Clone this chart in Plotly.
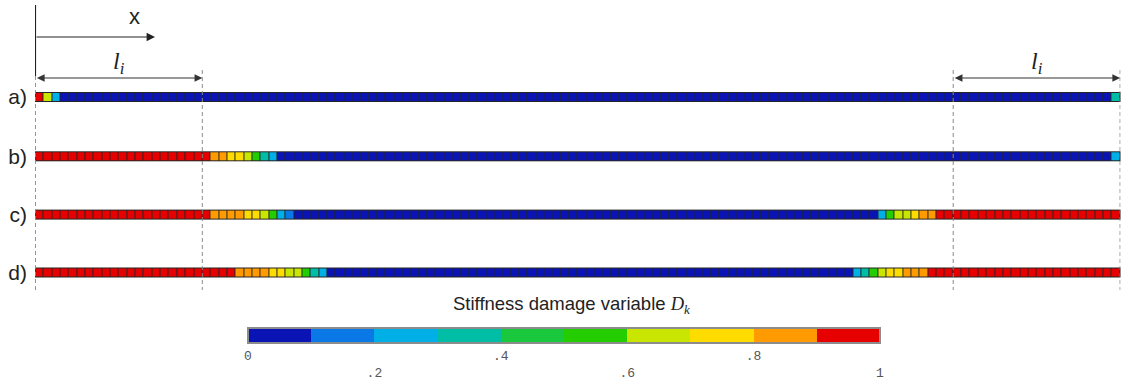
import plotly.graph_objects as go
import numpy as np

# ---------------- data ----------------
row_labels = ["a)", "b)", "c)", "d)"]
n_elements = 130          # elements along the bar
li_elements = 20          # elements inside each l_i zone

# damage value per element, as (value, number of consecutive elements)
runs_a = [(0.95, 1), (0.65, 1), (0.25, 1), (0.05, 126), (0.35, 1)]
runs_b = [(0.95, 21), (0.85, 2), (0.75, 2), (0.65, 1), (0.55, 1), (0.35, 1),
          (0.25, 1), (0.05, 100), (0.25, 1)]
runs_c = [(0.95, 21), (0.85, 4), (0.75, 2), (0.65, 1), (0.55, 1), (0.25, 1),
          (0.15, 1), (0.05, 70), (0.25, 1), (0.55, 1), (0.65, 2), (0.75, 1),
          (0.85, 2), (0.95, 22)]
runs_d = [(0.95, 24), (0.85, 4), (0.75, 2), (0.65, 2), (0.55, 1), (0.35, 1),
          (0.25, 1), (0.05, 63), (0.25, 1), (0.35, 1), (0.55, 1), (0.65, 1),
          (0.75, 2), (0.85, 3), (0.95, 23)]
all_runs = [runs_a, runs_b, runs_c, runs_d]

bin_colors = ["#0a14b4", "#0a78e6", "#00afe6", "#00bea5", "#19c83c",
              "#23cd00", "#c8e600", "#ffdc00", "#ff9b00", "#e60000"]
cbar_tickvals = [0, 0.2, 0.4, 0.6, 0.8, 1.0]
cbar_ticktext = ["0", "<br>.2", ".4", "<br>.6", ".8", "<br>1"]


def expand(runs):
    return [v for v, n in runs for _ in range(n)]


# ---------------- layout helpers ----------------
W, H = 1121, 381


def py(p):
    return 1 - p / H


def px(p):
    return p / W


colorscale = []
nb = len(bin_colors)
for k, c in enumerate(bin_colors):
    colorscale.append([k / nb, c])
    colorscale.append([(k + 1) / nb, c])

row_centers = [97.0, 156.3, 214.6, 272.5]
half_h = 5.0
x_edges = np.arange(n_elements + 1)

fig = go.Figure()
layout = {}
for i, (lab, runs) in enumerate(zip(row_labels, all_runs)):
    sfx = "" if i == 0 else str(i + 1)
    vals = expand(runs)
    fig.add_trace(go.Heatmap(
        z=[vals], x=x_edges, y=[-0.5, 0.5], coloraxis="coloraxis",
        xgap=1, xaxis="x" + sfx, yaxis="y" + sfx, hoverinfo="skip"))
    xa = dict(domain=[px(35), px(1120.5)], range=[-0.05, n_elements + 0.05],
              visible=False, anchor="y" + sfx, fixedrange=True)
    if i > 0:
        xa["matches"] = "x"
    layout["xaxis" + sfx] = xa
    c = row_centers[i]
    layout["yaxis" + sfx] = dict(
        domain=[py(c + half_h), py(c - half_h)], range=[-0.625, 0.625],
        anchor="x" + sfx, tickvals=[0], ticktext=[lab], showgrid=False,
        zeroline=False, showline=False, ticks="", fixedrange=True,
        ticklabelstandoff=7, automargin=False,
        tickfont=dict(family="Liberation Sans", size=21, color="#222"))

fig.update_layout(**layout)

fig.update_layout(
    width=W, height=H,
    margin=dict(l=0, r=0, t=0, b=0, pad=0, autoexpand=False),
    paper_bgcolor="white", plot_bgcolor="#262626", showlegend=False,
    coloraxis=dict(
        cmin=0, cmax=1, colorscale=colorscale,
        colorbar=dict(
            orientation="h", x=px(564), xanchor="center", y=py(328),
            yanchor="top", len=632 / W, lenmode="fraction", thickness=15,
            outlinewidth=2, outlinecolor="#8c8c8c", tickvals=cbar_tickvals,
            ticktext=cbar_ticktext, ticks="", xpad=0, ypad=0,
            tickfont=dict(family="Liberation Mono", size=13, color="#555"))))

shapes = []
# solid vertical origin line
shapes.append(dict(type="line", xref="x", yref="paper", x0=0, x1=0,
                   y0=py(5), y1=py(76), line=dict(color="#222", width=1.3)))
# dashed guide lines at bar ends and l_i limits
for xv, ytop in [(0, 76), (li_elements, 70), (n_elements - li_elements, 70),
                 (n_elements, 70)]:
    shapes.append(dict(type="line", xref="x", yref="paper", x0=xv, x1=xv,
                       y0=py(ytop), y1=py(290),
                       line=dict(color="#8a8a8a", width=1, dash="4px,3px")))
fig.update_layout(shapes=shapes)

annotations = []
# x axis arrow
annotations.append(dict(x=px(155), y=py(37), xref="paper", yref="paper",
                        ax=-120, ay=0, axref="pixel", ayref="pixel", text="",
                        showarrow=True, arrowhead=2, arrowsize=1.4,
                        arrowwidth=1.2, arrowcolor="#222"))
annotations.append(dict(x=px(134), y=py(16), xref="paper", yref="paper",
                        xanchor="center", yanchor="middle",
                        text="x", showarrow=False,
                        font=dict(family="Liberation Sans", size=22,
                                  color="#222")))
# l_i double arrows
for x0, x1 in [(0, li_elements), (n_elements - li_elements, n_elements)]:
    annotations.append(dict(x=x1, y=py(78), xref="x", yref="paper",
                            ax=x0, ay=0, axref="x", ayref="pixel",
                            text="", showarrow=True, arrowhead=2,
                            startarrowhead=2, arrowside="end+start",
                            arrowsize=1.4, startarrowsize=1.4,
                            arrowwidth=1.1, arrowcolor="#333"))
    annotations.append(dict(x=(x0 + x1) / 2, y=py(63), xref="x",
                            yref="paper", xanchor="center", yanchor="middle",
                            text="<i>l<sub>i</sub></i>",
                            showarrow=False,
                            font=dict(family="Liberation Serif", size=24,
                                      color="#222")))
# colorbar title
annotations.append(dict(x=px(571), y=py(305), xref="paper", yref="paper",
                        xanchor="center", yanchor="middle",
                        text="Stiffness damage variable "
                             "<span style='font-family:Liberation Serif'>"
                             "<i>D<sub>k</sub></i></span>",
                        showarrow=False,
                        font=dict(family="Liberation Sans", size=18.5,
                                  color="#222")))
fig.update_layout(annotations=annotations)

fig.write_html(
    "out.html",
    config={"displayModeBar": False},
    post_script="document.body.style.margin='0px';"
                "document.body.style.overflow='hidden';")
